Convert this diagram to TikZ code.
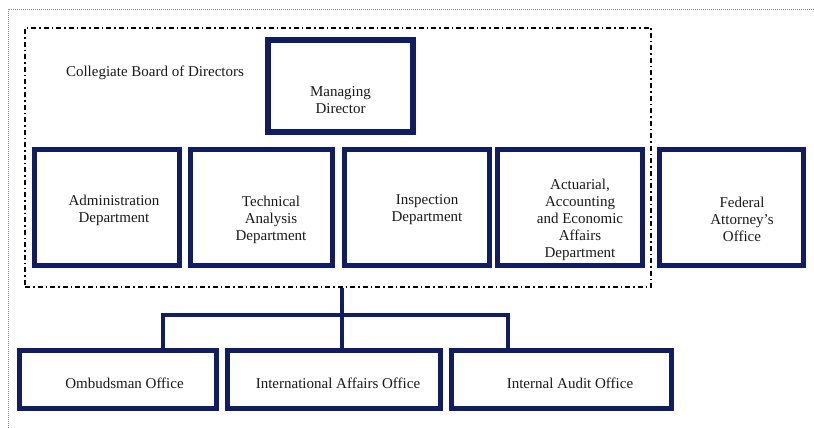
\documentclass[tikz,border=0pt]{standalone}
\usepackage{fontspec}
\setmainfont{Liberation Serif}
\usepackage{tikz}
\usetikzlibrary{positioning}
\definecolor{navy}{RGB}{16,28,100}
\tikzset{my_chart/.style={x=1pt,y=-1pt,font=\fontsize{15}{17}\selectfont}}
\tikzset{my_unit/.style={rectangle, draw=navy, line width=5pt, inner sep=0pt}}
\tikzset{my_text/.style={align=center, text=black!90, inner sep=0pt}}
\tikzset{my_frame/.style={rectangle, draw=black, line width=1.2pt, dash pattern=on 5pt off 3pt on 1.5pt off 3pt, inner sep=0pt}}
\tikzset{my_link/.style={draw=navy, line width=4pt}}

\begin{document}
\begin{tikzpicture}[my_chart]
    \useasboundingbox (0,0) rectangle (814,428);
    %\draw[help lines, step=50] (0,0) grid (814,428);
    \draw[gray, line width=0.8pt, dash pattern=on 1pt off 1pt] (8,428) -- (8,9) -- (814,9);

    \node[my_frame, minimum width=626pt, minimum height=259pt] (board) at (338,157.5) {};
    \node[my_text] (board_title) at (155,73) {Collegiate Board of Directors};

    \node[my_unit, line width=6pt, minimum width=145pt, minimum height=92pt,
        label={[my_text, yshift=-14pt]center:{Managing\\Director}}] (md) at (340.5,86) {};

    % departments
    \node[my_unit, minimum width=145pt, minimum height=116pt,
        label={[my_text, xshift=7pt, yshift=-3pt]center:{Administration\\Department}}] (admin) at (107,207.5) {};
    \node[my_unit, minimum width=142pt, minimum height=116pt,
        label={[my_text, xshift=9.5pt, yshift=-12pt]center:{Technical\\Analysis\\Department}}] (tech) at (261.5,207.5) {};
    \node[my_unit, minimum width=145pt, minimum height=116pt,
        label={[my_text, xshift=10pt, yshift=-2.5pt]center:{Inspection\\Department}}] (insp) at (417,207.5) {};
    \node[my_unit, minimum width=145pt, minimum height=116pt,
        label={[my_text, xshift=10pt, yshift=-12pt]center:{Actuarial,\\Accounting\\and Economic\\Affairs\\Department}}] (actu) at (570,207.5) {};
    \node[my_unit, minimum width=144pt, minimum height=116pt,
        label={[my_text, xshift=10.5pt, yshift=-12pt]center:{Federal\\Attorney's\\Office}}] (fed) at (731.5,207.5) {};

    % offices
    \node[my_unit, minimum width=197pt, minimum height=58pt,
        label={[my_text, xshift=6.5pt, yshift=-3.5pt]center:Ombudsman Office}] (ombud) at (118,379.5) {};
    \node[my_unit, minimum width=213pt, minimum height=58pt,
        label={[my_text, xshift=4pt, yshift=-3.5pt]center:International Affairs Office}] (intl) at (334,379.5) {};
    \node[my_unit, minimum width=220pt, minimum height=58pt,
        label={[my_text, xshift=8.5pt, yshift=-3.5pt]center:Internal Audit Office}] (audit) at (561.5,379.5) {};

    \coordinate (trunk) at (342,315);
    \coordinate (bar_l) at (163,315);
    \coordinate (bar_r) at (508,315);

    \draw[my_link] (trunk |- board.south) -- (trunk |- intl.north);
    \draw[my_link] (ombud.north -| bar_l) -- (bar_l) -- (bar_r) -- (audit.north -| bar_r);
\end{tikzpicture}
\end{document}
